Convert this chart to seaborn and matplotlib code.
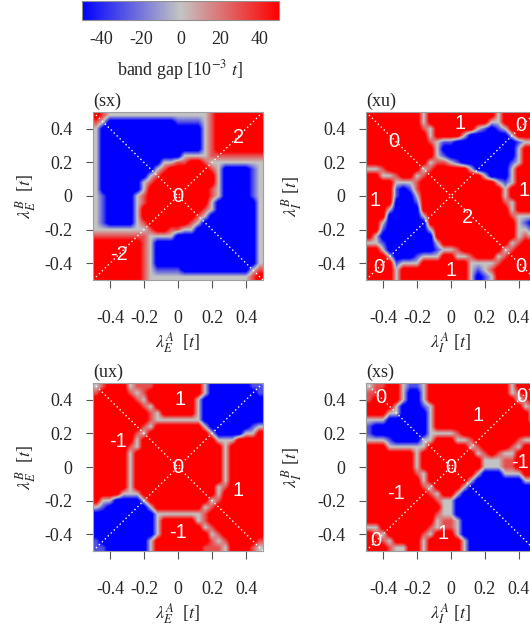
import numpy as np
import matplotlib
matplotlib.use("Agg")
import matplotlib.pyplot as plt
import seaborn as sns
from matplotlib.colors import LinearSegmentedColormap

# ---------------------------------------------------------------- data
# Band gap (10^-3 t) on a 25 x 25 grid.
# Row 0 = top (lambda^B = +0.5), column 0 = left (lambda^A = -0.5).
# Codes: B / R = deep gap (beyond the +-50 colour range), b / r = moderate,
# o = 0 (gap closing line)
GAP_CODES = {"B": -65.0, "b": -30.0, "o": 0.0, "r": 30.0, "R": 65.0}

GAP_SX = [
    "RrooooooooooooooorRRRRRRR",
    "roBBBBBBBBBBbbbborRRRRRRR",
    "oBBBBBBBBBBBBBBBorRRRRRRR",
    "oBBBBBBBBBBBBBBBorRRRRRRR",
    "oBBBBBBBBBBBBBBBorRRRRRRR",
    "oBBBBBBBBBBBBBBBorRRRRRRR",
    "oBBBBBBBBBBBBoooorrrrrrrr",
    "oBBBBBBBBBoorrRRroooooooo",
    "oBBBBBBBBorRRRRRRroBBBBbo",
    "oBBBBBBBorRRRRRRRRoBBBBbo",
    "oBBBBBBorRRRRRRRRRoBBBBbo",
    "oBBBBBBoRRRRRRRRRroBBBBbo",
    "obBBBBorRRRRRRRRRroBBBBbo",
    "obBBBBorRRRRRRRRRoBBBBBBo",
    "obBBBBoRRRRRRRRRroBBBBBBo",
    "obBBBBoRRRRRRRRroBBBBBBBo",
    "obBBBBorRRRRRRroBBBBBBBBo",
    "oooooooorRRrrooBBBBBBBBBo",
    "rrrrrrrrooooBBBBBBBBBBBBo",
    "RRRRRRRroBBBBBBBBBBBBBBBo",
    "RRRRRRRroBBBBBBBBBBBBBBBo",
    "RRRRRRRroBBBBBBBBBBBBBBBo",
    "RRRRRRRroBBBBBBBBBBBBBBBo",
    "RRRRRRRrobbbbBBBBBBBBBBor",
    "RRRRRRRrooooooooooooooorR",
]

GAP_XU = [
    "RRRRRRRRoRRRRRRRRRRoRRRRR",
    "RRRRRRRRoRRRRRRRRRooRRRRR",
    "RRRRRRRRroRRRRRRobBboRRRR",
    "RRRRRRRRRoRRRRoBBBBBBoRRR",
    "RRRRRRRRRrobbBBBBBBBBBboo",
    "RRRRRRRRRRoBBBBBBBBBBBoRR",
    "RRRRRRRRRRobBBBBBBBBBBoRR",
    "RRRRRRRRRorrobBBBBBBBboRR",
    "oorRRRRRorRRRRRoBBBBBoRRR",
    "RRoorRRorRRRRRRRRoBBBoRRR",
    "RRRRooorRRRRRRRRRRRoboRRR",
    "RRRRbBbrRRRRRRRRRRRRoRRRR",
    "RRRRbBBoRRRRRRRRRRRRoRRRR",
    "RRRRBBBbRRRRRRRRRRRRroRRR",
    "RRRoBBBBRRRRRRRRRRRRRoRRR",
    "RRRBBBBBoRRRRRRRRRRRRrooo",
    "RRoBBBBBBRRRRRRRRRRRRRobB",
    "RRbBBBBBBoRRRRRRRRRRRRoob",
    "RoBBBBBBBBRRRRRRRRRRRRoro",
    "oobBBBBBBBoRRRRRRRRRRorRR",
    "RRoBBBBBBBboorRRRRRRorRRR",
    "RRRoBBBboooRRoorRRRorRRRR",
    "RRRRboooRRRRRRRoooorRRRRR",
    "RRRRoRRRRRRRRRRoborRRRRRR",
    "RRRRoRRRRRRRRRRoBboRRRRRR",
]

GAP_UX = [
    "orRRRorrrRRRRRRRoBBBBBBbb",
    "rRRRRrorRRRRRRRRoBBBBBBBb",
    "RRRRRRroRRRRRRRoBBBBBBBBB",
    "RRRRRRRroRRRRRRoBBBBBBBBB",
    "RRRRRRRRroRRRRRoBBBBBBBBB",
    "RRRRRRRRroooooooBBBBBBBBB",
    "RRRRRRRroRRRRRRRoBBBBBBbo",
    "RRRRRRroRRRRRRRRRoBBBBooR",
    "RRRRRRoRRRRRRRRRRRoooRRRR",
    "RRRRRroRRRRRRRRRRRRoRRRRR",
    "RRRRRoRRRRRRRRRRRRRoRRRRR",
    "RRRRRoRRRRRRRRRRRRRoRRRRR",
    "RRRRRoRRRRRRRRRRRRRoRRRRR",
    "RRRRRoRRRRRRRRRRRRRoRRRRR",
    "RRRRRoRRRRRRRRRRRRRoRRRRR",
    "RRRRRoRRRRRRRRRRRRorRRRRR",
    "RRRRoooRRRRRRRRRRRoRRRRRR",
    "RooBBBBoRRRRRRRRRorRRRRRR",
    "obBBBBBBoRRRRRRRorRRRRRRR",
    "BBBBBBBBBooooooorRRRRRRRR",
    "BBBBBBBBBoRRRRRorRRRRRRRR",
    "BBBBBBBBBoRRRRRRorRRRRRRR",
    "BBBBBBBBBoRRRRRRRorRRRRRR",
    "bBBBBBBBoRRRRRRRRrorRRRRr",
    "bbBBBBBBoRRRRRRRrrroRRRro",
]

GAP_XS = [
    "orrRRobboRRRRRRRRRRRRoRRR",
    "rrRRRoBBoRRRRRRRRRRRRorRR",
    "rRRRRoBBoRRRRRRRRRRRRRorR",
    "RRRRoBBBboRRRRRRRRRRRRRor",
    "RRRooBBBBoRRRRRRRRRRRRRRo",
    "oooBBBBBBoRRRRRRRRRRRRRRo",
    "bBBBBBBBBoRRRRRRRRRRRRRRR",
    "bBBBBBBBBoooorRRRRRRRRRRR",
    "ooobBBBBooRRRoorRRRRRRroo",
    "RRRooooooRRRRRRorRRRRroRR",
    "RRRRRRRoRRRRRRRRorRrooRRR",
    "RRRRRRRoRRRRRRRRRooorrRRR",
    "RRRRRRRoRRRRRRRRRooorrRRR",
    "RRRRRRRroRRRRRRRoBBBoooRR",
    "RRRRRRRRoRRRRRRoBBBBBBBoo",
    "RRRRRRRRroRRRRoBBBBBBBBBB",
    "RRRRRRRRRroRRoBBBBBBBBBBB",
    "RRRRRRRRRRrooBBBBBBBBBBBB",
    "RRRRRRRRRRRooBBBBBBBBBBBB",
    "RRRRRRRRRRrooBBBBBBBBBBBB",
    "RRRRRRRRRRorroBBBBBBBBBBB",
    "ooRRRRRRRrorroBBBBBBBBBBB",
    "RroRRRRRroRRRoBBBBBBBBBBB",
    "RRroRRRRoRRRRRoBBBBBBBBBB",
    "RRRrooRRoRRRRRoBBBBBBBBBB",
]

# Chern-number labels written inside the panels (data coordinates)
CHERN_SX = ["2", "0", "-2"]
CHERN_SX_X = [0.357, 0.0, -0.347]
CHERN_SX_Y = [0.351, 0.0, -0.347]

CHERN_XU = ["0", "1", "0", "1", "2", "1", "0", "1", "0"]
CHERN_XU_X = [-0.339, 0.053, 0.412, -0.447, 0.098, 0.43, -0.422, 0.0, 0.412]
CHERN_XU_Y = [0.324, 0.431, 0.418, -0.025, -0.127, 0.033, -0.425, -0.445, -0.422]

CHERN_UX = ["1", "-1", "0", "1", "-1"]
CHERN_UX_X = [0.01, -0.353, 0.0, 0.353, 0.0]
CHERN_UX_Y = [0.402, 0.153, 0.0, -0.141, -0.392]

CHERN_XS = ["0", "0", "1", "0", "-1", "-1", "1", "0"]
CHERN_XS_X = [-0.412, 0.418, 0.161, 0.0, 0.405, -0.324, -0.045, -0.441]
CHERN_XS_Y = [0.412, 0.422, 0.304, 0.0, 0.029, -0.157, -0.396, -0.435]

PANEL_TAGS = ["(sx)", "(xu)", "(ux)", "(xs)"]
X_LABELS = [r"$\lambda_E^A$  [$t$]", r"$\lambda_I^A$ [$t$]",
            r"$\lambda_E^A$  [$t$]", r"$\lambda_I^A$ [$t$]"]
Y_LABELS = [r"$\lambda_E^B$  [$t$]", r"$\lambda_I^B$ [$t$]",
            r"$\lambda_E^B$  [$t$]", r"$\lambda_I^B$ [$t$]"]

AXIS_TICKS = [-0.4, -0.2, 0.0, 0.2, 0.4]
AXIS_TICK_LABELS = ["-0.4", "-0.2", "0", "0.2", "0.4"]
AXIS_RANGE = [-0.5, 0.5]
DIAG = [-0.5, 0.5]
ANTI_DIAG = [0.5, -0.5]

CB_TICKS = [-40, -20, 0, 20, 40]
CB_TICK_LABELS = ["-40", "-20", "0", "20", "40"]
CB_RANGE = [-50, 50]
CB_LABEL = r"band gap [10$^{-3}$ $t$]"


def decode(grid, name):
    rows = []
    for k, row in enumerate(grid):
        if len(row) != 25:
            raise ValueError(f"{name} row {k} has length {len(row)}")
        rows.append([GAP_CODES[c] for c in row])
    return np.array(rows)


PANELS = [
    (decode(GAP_SX, "sx"), CHERN_SX, CHERN_SX_X, CHERN_SX_Y),
    (decode(GAP_XU, "xu"), CHERN_XU, CHERN_XU_X, CHERN_XU_Y),
    (decode(GAP_UX, "ux"), CHERN_UX, CHERN_UX_X, CHERN_UX_Y),
    (decode(GAP_XS, "xs"), CHERN_XS, CHERN_XS_X, CHERN_XS_Y),
]

# ---------------------------------------------------------------- style
sns.set_theme(style="ticks")
plt.rcParams["font.family"] = ["Liberation Serif", "DejaVu Serif"]
plt.rcParams["mathtext.fontset"] = "stix"
plt.rcParams["font.size"] = 13

cmap = LinearSegmentedColormap.from_list(
    "gap", ["#0000ff", "#c4c4c4", "#ff0000"])

W, H = 530, 631
fig = plt.figure(figsize=(W / 100, H / 100), dpi=100)


def box(x0, y0, x1, y1):
    return [x0 / W, 1 - y1 / H, (x1 - x0) / W, (y1 - y0) / H]


PANEL_BOXES = [box(93, 112, 263, 280), box(366, 112, 536, 280),
               box(93, 383, 263, 551), box(366, 383, 536, 551)]
YLABEL_X = [-0.395, -0.44, -0.395, -0.44]

im = None
for p, (data, texts, tx, ty) in enumerate(PANELS):
    ax = fig.add_axes(PANEL_BOXES[p])
    im = ax.imshow(data, cmap=cmap, vmin=CB_RANGE[0], vmax=CB_RANGE[1],
                   extent=(AXIS_RANGE[0], AXIS_RANGE[1],
                           AXIS_RANGE[0], AXIS_RANGE[1]),
                   origin="upper", interpolation="bilinear",
                   interpolation_stage="data", aspect="auto")
    sns.lineplot(x=DIAG, y=DIAG, ax=ax, color="white", lw=1.0,
                 linestyle=(0, (1, 2)), legend=False)
    sns.lineplot(x=DIAG, y=ANTI_DIAG, ax=ax, color="white", lw=1.0,
                 linestyle=(0, (1, 2)), legend=False)
    for s, x, y in zip(texts, tx, ty):
        ax.text(x, y, s, color="white", fontsize=14.5, ha="center",
                va="center", family=["Liberation Sans", "DejaVu Sans"])
    ax.set_xlim(AXIS_RANGE)
    ax.set_ylim(AXIS_RANGE)
    ax.set_xticks(AXIS_TICKS)
    ax.set_xticklabels(AXIS_TICK_LABELS)
    ax.set_yticks(AXIS_TICKS)
    ax.set_yticklabels(AXIS_TICK_LABELS)
    ax.set_xlabel("")
    ax.set_ylabel("")
    ax.tick_params(axis="x", direction="out", length=5.8, width=0.8,
                   color="#555555", labelsize=13, pad=16)
    ax.tick_params(axis="y", direction="out", length=5.0, width=0.8,
                   color="#555555", labelsize=13, pad=10)
    for sp in ax.spines.values():
        sp.set_color("#a0a0a0")
        sp.set_linewidth(0.8)
    ax.text(0.0, 1.012, PANEL_TAGS[p], transform=ax.transAxes,
            ha="left", va="bottom", fontsize=13)
    ax.text(0.5, -0.37, X_LABELS[p], transform=ax.transAxes,
            ha="center", va="center", fontsize=13)
    ax.text(YLABEL_X[p], 0.5, Y_LABELS[p], transform=ax.transAxes,
            ha="center", va="center", rotation=90, fontsize=13)

cax = fig.add_axes(box(82, 1, 279, 20))
cb = fig.colorbar(im, cax=cax, orientation="horizontal", ticks=CB_TICKS)
cb.ax.set_xticklabels(CB_TICK_LABELS)
cb.ax.tick_params(direction="in", length=4.5, width=0.8, color="#555555",
                  labelsize=13, pad=8)
cb.outline.set_edgecolor("#909090")
cb.outline.set_linewidth(0.8)
fig.text(180 / W, 1 - 70 / H, CB_LABEL, ha="center", va="center",
         fontsize=13)

fig.savefig("out.png", dpi=100)
